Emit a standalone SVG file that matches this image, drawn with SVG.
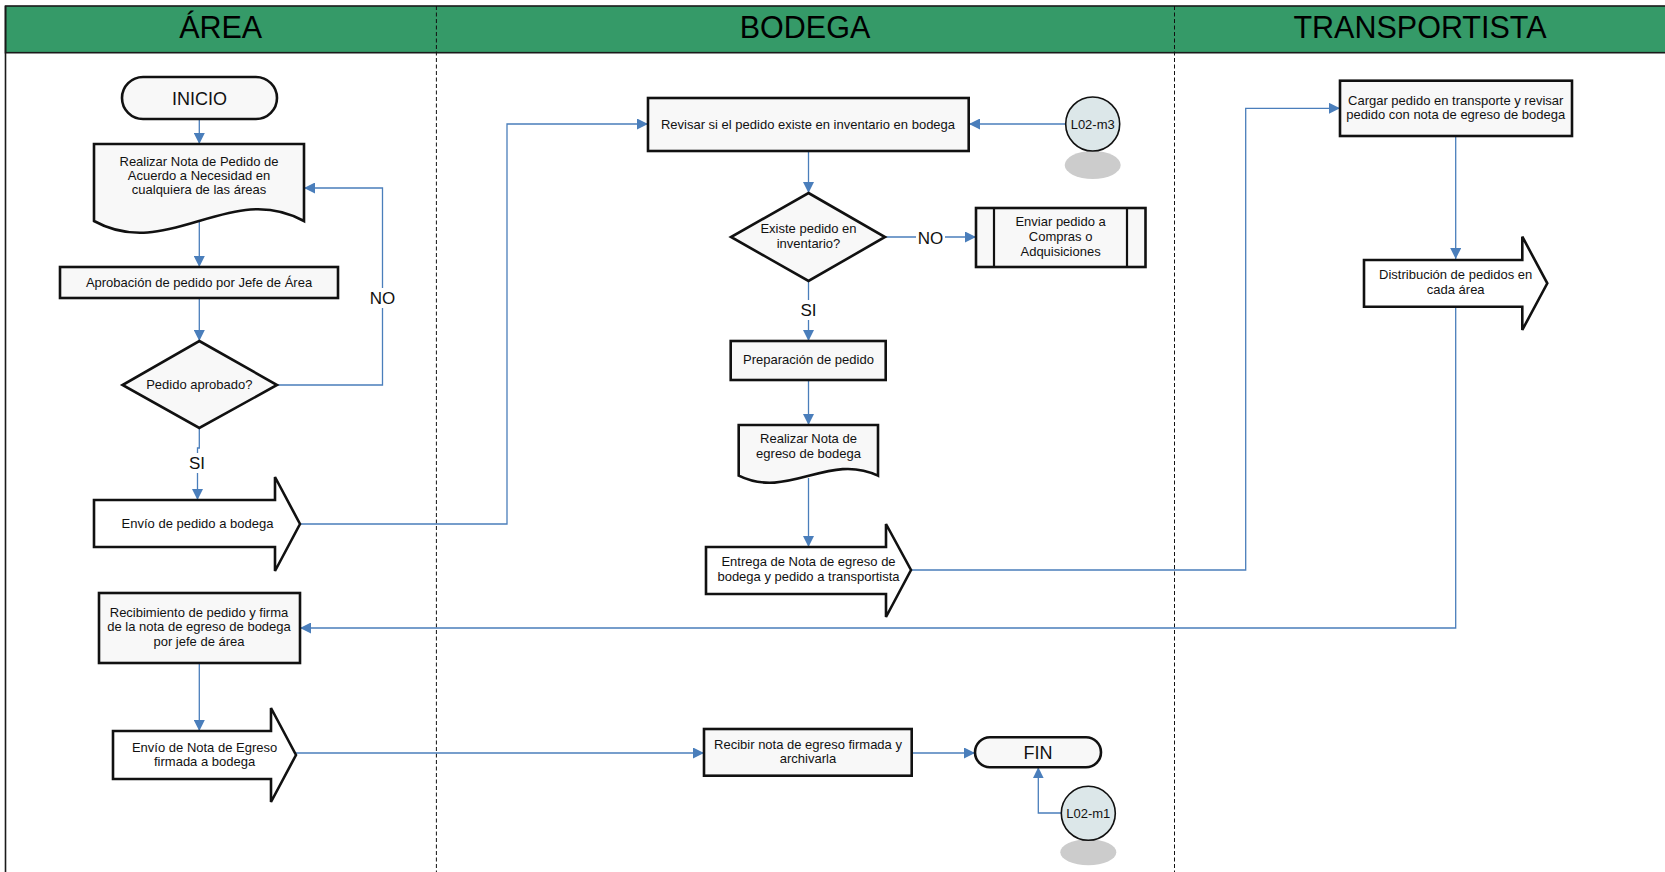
<svg xmlns="http://www.w3.org/2000/svg" width="1665" height="872" viewBox="0 0 1665 872">
  <defs>
    <marker id="arrow" viewBox="0 0 10 10" refX="10" refY="5" markerWidth="11" markerHeight="11" markerUnits="userSpaceOnUse" orient="auto">
      <path d="M0,0 L10,5 L0,10 z" fill="#4a7ebb"/>
    </marker>
    <style>
      .lane-title { font-family: "Liberation Sans", Arial, sans-serif; font-size: 30.5px; fill: #000; text-anchor: middle; }
      .t { font-family: "Liberation Sans", Arial, sans-serif; font-size: 13px; fill: #111; text-anchor: middle; }
      .term { font-family: "Liberation Sans", Arial, sans-serif; font-size: 18px; fill: #111; text-anchor: middle; }
      .lbl { font-family: "Liberation Sans", Arial, sans-serif; font-size: 17px; fill: #111; text-anchor: middle; }
      .box { fill: #f8f8f8; stroke: #111; stroke-width: 2.6; stroke-linejoin: miter; }
      .blk { fill: #ffffff; stroke: #111; stroke-width: 2.6; stroke-linejoin: miter; }
      .conn { fill: none; stroke: #4a7ebb; stroke-width: 1.3; }
      .divider { stroke: #111; stroke-width: 1; stroke-dasharray: 4 2.5; }
      .ref { fill: #dce7e9; stroke: #111; stroke-width: 1.6; }
      .shadow { fill: #cccccc; }
    </style>
  </defs>

  <rect x="0" y="0" width="1665" height="872" fill="#ffffff"/>

  <!-- swimlane frame and headers -->
  <g id="lanes">
    <rect x="5.5" y="6" width="1665" height="46.7" fill="#359a68" stroke="#1a1a1a" stroke-width="1.6"/>
    <line x1="5.5" y1="6" x2="5.5" y2="872" stroke="#1a1a1a" stroke-width="1.6"/>
    <line class="divider" x1="436.4" y1="6" x2="436.4" y2="872"/>
    <line class="divider" x1="1174.5" y1="6" x2="1174.5" y2="872"/>
    <text class="lane-title" x="220.7" y="37.7">ÁREA</text>
    <text class="lane-title" x="805" y="37.7">BODEGA</text>
    <text class="lane-title" x="1420" y="37.7">TRANSPORTISTA</text>
  </g>

  <!-- connectors -->
  <g id="connectors">
    <path class="conn" d="M199.3,119 V144" marker-end="url(#arrow)"/>
    <path class="conn" d="M199.3,221 V267" marker-end="url(#arrow)"/>
    <path class="conn" d="M199.3,298 V341" marker-end="url(#arrow)"/>
    <path class="conn" d="M199.3,428 V448 H197.5 V500" marker-end="url(#arrow)"/>
    <path class="conn" d="M277,385 H382.5 V188 H304" marker-end="url(#arrow)"/>
    <path class="conn" d="M300,524 H507 V124 H648" marker-end="url(#arrow)"/>
    <path class="conn" d="M1065.5,124 H969" marker-end="url(#arrow)"/>
    <path class="conn" d="M808.5,151 V193" marker-end="url(#arrow)"/>
    <path class="conn" d="M885,237 H976" marker-end="url(#arrow)"/>
    <path class="conn" d="M808.5,281 V341" marker-end="url(#arrow)"/>
    <path class="conn" d="M808.5,380 V425" marker-end="url(#arrow)"/>
    <path class="conn" d="M808.5,478 V547" marker-end="url(#arrow)"/>
    <path class="conn" d="M911,570 H1245.7 V108.3 H1340" marker-end="url(#arrow)"/>
    <path class="conn" d="M1455.7,136 V259" marker-end="url(#arrow)"/>
    <path class="conn" d="M1455.7,307 V628 H300" marker-end="url(#arrow)"/>
    <path class="conn" d="M199.3,663 V731" marker-end="url(#arrow)"/>
    <path class="conn" d="M296,753 H704" marker-end="url(#arrow)"/>
    <path class="conn" d="M911.7,753 H975" marker-end="url(#arrow)"/>
    <path class="conn" d="M1061,813 H1038.3 V767.3" marker-end="url(#arrow)"/>
    <!-- branch labels -->
    <rect x="368" y="288" width="29" height="20" fill="#ffffff"/>
    <text class="lbl" x="382.5" y="304">NO</text>
    <rect x="186" y="453" width="23" height="20" fill="#ffffff"/>
    <text class="lbl" x="197" y="469">SI</text>
    <rect x="916" y="228" width="29" height="19" fill="#ffffff"/>
    <text class="lbl" x="930.5" y="243.5">NO</text>
    <rect x="797" y="300" width="23" height="20" fill="#ffffff"/>
    <text class="lbl" x="808.5" y="316">SI</text>
  </g>

  <!-- ÁREA lane -->
  <g id="inicio">
    <rect class="box" x="122" y="77" width="155" height="42" rx="21"/>
    <text class="term" x="199.5" y="104.5">INICIO</text>
  </g>
  <g id="nota-pedido">
    <path class="box" d="M94,144 H304 V221 C230,180 168,262 94,221 Z"/>
    <text class="t" x="199" y="165.7">Realizar Nota de Pedido de</text>
    <text class="t" x="199" y="180.3">Acuerdo a Necesidad en</text>
    <text class="t" x="199" y="194.3">cualquiera de las áreas</text>
  </g>
  <g id="aprobacion">
    <rect class="box" x="60" y="267" width="278" height="31"/>
    <text class="t" x="199" y="286.5">Aprobación de pedido por Jefe de Área</text>
  </g>
  <g id="pedido-aprobado">
    <path class="box" d="M199.3,341 L277,385 L199.3,428 L122.5,385 Z"/>
    <text class="t" x="199.3" y="389">Pedido aprobado?</text>
  </g>
  <g id="envio-pedido">
    <path class="blk" d="M94,500 H275 V477 L300,524 L275,571 V547 H94 Z"/>
    <text class="t" x="197.5" y="527.5">Envío de pedido a bodega</text>
  </g>
  <g id="recibimiento">
    <rect class="box" x="99" y="593" width="201" height="70"/>
    <text class="t" x="199" y="616.7">Recibimiento de pedido y firma</text>
    <text class="t" x="199" y="631.3">de la nota de egreso de bodega</text>
    <text class="t" x="199" y="645.7">por jefe de área</text>
  </g>
  <g id="envio-nota">
    <path class="blk" d="M113,731 H271 V708 L296,755 L271,802 V779 H113 Z"/>
    <text class="t" x="204.6" y="751.5">Envío de Nota de Egreso</text>
    <text class="t" x="204.6" y="765.7">firmada a bodega</text>
  </g>

  <!-- BODEGA lane -->
  <g id="revisar">
    <rect class="box" x="648" y="98" width="320.7" height="53"/>
    <text class="t" x="808" y="128.5">Revisar si el pedido existe en inventario en bodega</text>
  </g>
  <g id="ref-l02-m3">
    <ellipse class="shadow" cx="1092.7" cy="165" rx="28" ry="14"/>
    <circle class="ref" cx="1092.7" cy="124" r="27"/>
    <text class="t" x="1092.7" y="128.5">L02-m3</text>
  </g>
  <g id="existe-pedido">
    <path class="box" d="M808.5,193 L885,237 L808.5,281 L731,237 Z"/>
    <text class="t" x="808.5" y="232.7">Existe pedido en</text>
    <text class="t" x="808.5" y="247.7">inventario?</text>
  </g>
  <g id="enviar-compras">
    <rect class="box" x="976" y="208" width="169.5" height="59"/>
    <line x1="994" y1="208" x2="994" y2="267" stroke="#111" stroke-width="2.2"/>
    <line x1="1127" y1="208" x2="1127" y2="267" stroke="#111" stroke-width="2.2"/>
    <text class="t" x="1060.6" y="226">Enviar pedido a</text>
    <text class="t" x="1060.6" y="240.7">Compras o</text>
    <text class="t" x="1060.6" y="255.7">Adquisiciones</text>
  </g>
  <g id="preparacion">
    <rect class="box" x="730.7" y="341" width="155" height="39"/>
    <text class="t" x="808.5" y="364.3">Preparación de pedido</text>
  </g>
  <g id="nota-egreso">
    <path class="box" d="M738.7,425 H878 V475.7 C829,452 788,500 738.7,475.7 Z"/>
    <text class="t" x="808.5" y="443.3">Realizar Nota de</text>
    <text class="t" x="808.5" y="457.7">egreso de bodega</text>
  </g>
  <g id="entrega">
    <path class="blk" d="M706,547 H886 V524 L911,570 L886,617 V594 H706 Z"/>
    <text class="t" x="808.5" y="566">Entrega de Nota de egreso de</text>
    <text class="t" x="808.5" y="580.7">bodega y pedido a transportista</text>
  </g>
  <g id="recibir-nota">
    <rect class="box" x="704" y="729" width="207.7" height="46.7"/>
    <text class="t" x="808" y="749.3">Recibir nota de egreso firmada y</text>
    <text class="t" x="808" y="763">archivarla</text>
  </g>
  <g id="fin">
    <rect class="box" x="975" y="737.3" width="126" height="30" rx="15"/>
    <text class="term" x="1038" y="758.5">FIN</text>
  </g>
  <g id="ref-l02-m1">
    <ellipse class="shadow" cx="1088.3" cy="852.3" rx="28" ry="13"/>
    <circle class="ref" cx="1088.3" cy="813.3" r="27"/>
    <text class="t" x="1088.3" y="817.8">L02-m1</text>
  </g>

  <!-- TRANSPORTISTA lane -->
  <g id="cargar">
    <rect class="box" x="1340" y="80.7" width="232" height="55.3"/>
    <text class="t" x="1455.7" y="104.5">Cargar pedido en transporte y revisar</text>
    <text class="t" x="1455.7" y="119">pedido con nota de egreso de bodega</text>
  </g>
  <g id="distribucion">
    <path class="blk" d="M1364,260 H1522.3 V236.7 L1547.3,283.3 L1522.3,330 V306.7 H1364 Z"/>
    <text class="t" x="1455.7" y="279.3">Distribución de pedidos en</text>
    <text class="t" x="1455.7" y="294.3">cada área</text>
  </g>
</svg>
